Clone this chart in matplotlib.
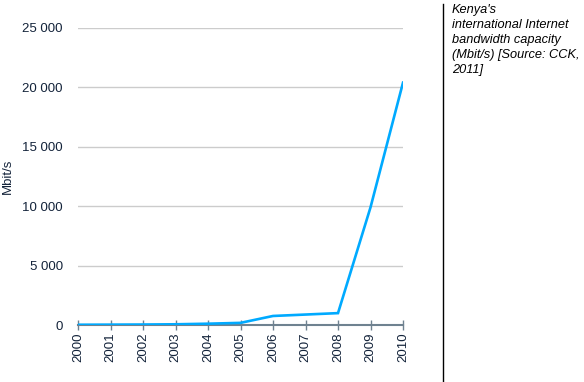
import matplotlib.pyplot as plt
from matplotlib.ticker import FuncFormatter

plt.rcParams['font.family'] = ['Liberation Sans', 'DejaVu Sans']

years = [2000, 2001, 2002, 2003, 2004, 2005, 2006, 2007, 2008, 2009, 2010]
bandwidth = [20, 30, 40, 60, 110, 180, 760, 880, 1000, 9900, 20400]
yticks = [0, 5000, 10000, 15000, 20000, 25000]
caption = "Kenya's\ninternational Internet\nbandwidth capacity\n(Mbit/s) [Source: CCK,\n2011]"

text_col = '#13233a'

fig = plt.figure(figsize=(5.84, 3.82), dpi=100)
ax = fig.add_axes([78 / 584, 57 / 382, 325 / 584, 297 / 382])

ax.plot(years, bandwidth, color='#00aaff', linewidth=1.9, solid_joinstyle='miter', zorder=3)

ax.set_xlim(2000, 2010)
ax.set_ylim(0, 25000)
ax.set_xticks(years)
ax.set_xticklabels([str(y) for y in years], rotation=90)
ax.set_yticks(yticks)
ax.yaxis.set_major_formatter(FuncFormatter(lambda v, p: f"{int(v):,}".replace(',', ' ')))
ax.grid(axis='y', color='#cccccc', linewidth=1)
ax.set_axisbelow(True)

for s in ['top', 'right', 'left']:
    ax.spines[s].set_visible(False)
ax.spines['bottom'].set_color('#6f8290')
ax.spines['bottom'].set_linewidth(1.5)
ax.spines['bottom'].set_zorder(2)

ax.tick_params(axis='x', direction='inout', length=7, width=1, color='#6f8290',
               labelsize=9.5, labelcolor=text_col, pad=2)
ax.tick_params(axis='y', length=0, labelsize=9.5, labelcolor=text_col, pad=11)

ax.set_ylabel('Mbit/s', fontsize=9.5, color=text_col, va='center')
ax.yaxis.set_label_coords(-70 / 325, 0.5)

fig.add_artist(plt.Line2D([443 / 584, 443 / 584], [0, 1 - 4 / 382], color='black', linewidth=1))
fig.text(452 / 584, 1 - 4 / 382, caption, fontsize=9.2, style='italic', color='black',
         ha='left', va='top', linespacing=1.32)

fig.savefig('out.png', dpi=100)
